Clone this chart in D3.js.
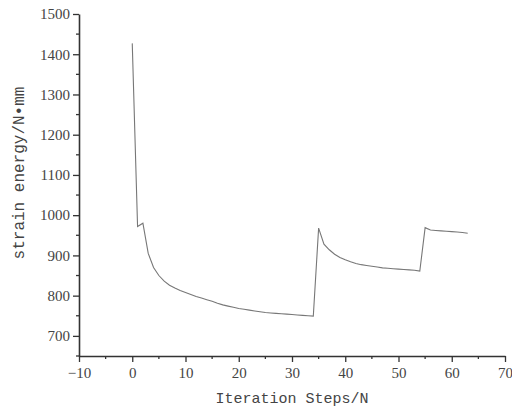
<!DOCTYPE html>
<html>
<head>
<meta charset="utf-8">
<script src="https://cdn.jsdelivr.net/npm/d3@7"></script>
<style>
  body { margin: 0; background: white; }
  .serif { font-family: "Liberation Serif", "Times New Roman", serif; }
  .mono { font-family: "Liberation Mono", "Courier New", Courier, monospace; }
</style>
</head>
<body>
<div id="container"></div>
<script>
/* CONSTANTS AND GLOBALS */
const width = 512,
  height = 409,
  marginLeft = 79,
  marginRight = 505,
  marginTop = 14,
  marginBottom = 356;

/* DATA */
const steps = d3.range(0, 64);
const energy = [
  1427, 972, 980, 905, 870, 850, 836, 826, 819, 813,
  808, 803, 798, 794, 790, 786, 781, 777, 774, 771,
  768, 766, 764, 762, 760, 758, 757, 756, 755, 754,
  753, 752, 751, 750, 749, 968, 928, 914, 903, 895,
  889, 884, 880, 877, 875, 873, 871, 869, 868, 867,
  866, 865, 864, 863, 861, 969, 963, 962, 961, 960,
  959, 958, 957, 955
];
const xTicks = [-10, 0, 10, 20, 30, 40, 50, 60, 70];
const yTicks = [700, 800, 900, 1000, 1100, 1200, 1300, 1400, 1500];

const data = steps.map((s, i) => ({ step: s, value: energy[i] }));

const svg = d3.select("#container")
  .append("svg")
  .attr("width", width)
  .attr("height", height)
  .style("background-color", "white");

/* SCALES */
const xScale = d3.scaleLinear().domain([-10, 70]).range([marginLeft, marginRight]);
const yScale = d3.scaleLinear().domain([650, 1500]).range([marginBottom, marginTop]);

/* AXES */
const xMinor = d3.range(-5, 70, 10);
const yMinor = d3.range(650, 1500, 100);

const xAxis = svg.append("g")
  .attr("transform", `translate(0,${marginBottom})`)
  .call(d3.axisBottom(xScale).tickValues(xTicks).tickSize(6).tickSizeOuter(0)
    .tickFormat(d => d < 0 ? "\u2212" + Math.abs(d) : String(d)));
xAxis.append("g").selectAll("line")
  .data(xMinor)
  .join("line")
  .attr("x1", d => xScale(d)).attr("x2", d => xScale(d))
  .attr("y1", 0).attr("y2", 3)
  .attr("stroke", "#333").attr("stroke-width", 1.3);

const yAxis = svg.append("g")
  .attr("transform", `translate(${marginLeft},0)`)
  .call(d3.axisLeft(yScale).tickValues(yTicks).tickSize(6).tickSizeOuter(0)
    .tickFormat(d => String(d)));
yAxis.append("g").selectAll("line")
  .data(yMinor)
  .join("line")
  .attr("y1", d => yScale(d)).attr("y2", d => yScale(d))
  .attr("x1", 0).attr("x2", -3)
  .attr("stroke", "#333").attr("stroke-width", 1.3);

svg.selectAll(".domain").attr("stroke", "#333").attr("stroke-width", 1.6);
svg.selectAll(".tick line").attr("stroke", "#333").attr("stroke-width", 1.3);
xAxis.attr("font-family", null).attr("font-size", 15);
yAxis.attr("font-family", null).attr("font-size", 15);
svg.selectAll(".tick text").attr("class", "serif").attr("fill", "#444");
xAxis.selectAll(".tick text").attr("y", 11);
yAxis.selectAll(".tick text").attr("x", -9);

/* LINE */
svg.append("path")
  .datum(data)
  .attr("fill", "none")
  .attr("stroke", "#777")
  .attr("stroke-width", 1.1)
  .attr("d", d3.line().x(d => xScale(d.step)).y(d => yScale(d.value)));

/* TITLES */
svg.append("text")
  .attr("class", "mono")
  .attr("x", 292)
  .attr("y", 403)
  .attr("text-anchor", "middle")
  .attr("font-size", 15)
  .attr("fill", "#444")
  .text("Iteration Steps/N");

svg.append("text")
  .attr("class", "mono")
  .attr("transform", "translate(24,173) rotate(-90)")
  .attr("text-anchor", "middle")
  .attr("font-size", 16)
  .attr("fill", "#444")
  .text("strain energy/N\u2022mm");
</script>
</body>
</html>
